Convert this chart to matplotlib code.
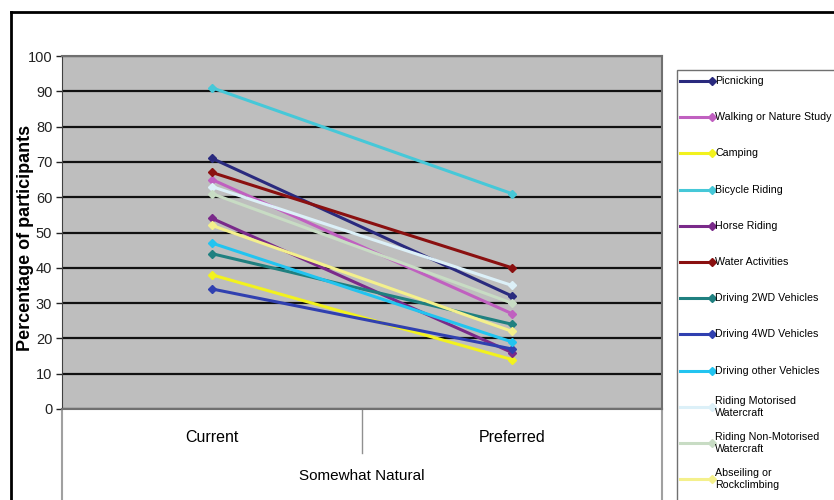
import matplotlib.pyplot as plt
from matplotlib.lines import Line2D
from matplotlib.patches import Rectangle

# data
categories = ['Current', 'Preferred']
group_label = 'Somewhat Natural'
series = ['Picnicking', 'Walking or Nature Study', 'Camping', 'Bicycle Riding',
          'Horse Riding', 'Water Activities', 'Driving 2WD Vehicles',
          'Driving 4WD Vehicles', 'Driving other Vehicles',
          'Riding Motorised\nWatercraft', 'Riding Non-Motorised\nWatercraft',
          'Abseiling or\nRockclimbing']
current = [71, 65, 38, 91, 54, 67, 44, 34, 47, 63, 61, 52]
preferred = [32, 27, 14, 61, 16, 40, 24, 17, 19, 35, 30, 22]
colors = ['#2a2a7e', '#c060c0', '#f2f21e', '#46c8d8', '#7a2a8a', '#8a1010',
          '#1f8080', '#3040b0', '#22c4f0', '#dcf0f8', '#c8dcc4', '#f4f08c']

plt.rcParams['font.family'] = ['Liberation Sans', 'DejaVu Sans']

fig = plt.figure(figsize=(8.34, 5), dpi=100)
ax = fig.add_axes([62/834, 1-409/500, 600/834, 353/500])
ax.set_facecolor('#bebebe')

x = [0.5, 1.5]
for name, c, p, col in zip(series, current, preferred, colors):
    ax.plot(x, [c, p], color=col, lw=2.2, marker='D', ms=4.5, mec=col, mfc=col, zorder=3)

ax.set_xlim(0, 2)
ax.set_ylim(0, 100)
ax.set_yticks(range(0, 101, 10))
ax.tick_params(axis='y', labelsize=10.5, length=4, width=1, colors='#222222', pad=3)
ax.grid(axis='y', color='#111111', lw=1.6)
ax.set_axisbelow(True)
ax.set_xticks([])
for s in ['top', 'right', 'bottom']:
    ax.spines[s].set_color('#707070')
    ax.spines[s].set_linewidth(1.5)
ax.spines['left'].set_color('#404040')

ax.set_ylabel('Percentage of participants', fontsize=13, fontweight='bold')
ax.yaxis.set_label_coords(-0.047, 0.484)

# category axis below the plot
tr = ax.transAxes
for xi, lab in zip(x, categories):
    ax.text(xi / 2, -0.08, lab, transform=tr, ha='center', va='center', fontsize=11.5)
ax.text(0.5, -0.19, group_label, transform=tr, ha='center', va='center', fontsize=11)
ax.plot([0.5, 0.5], [0, -0.125], transform=tr, color='#909090', lw=1, clip_on=False)
for xe in [0, 1]:
    ax.plot([xe, xe], [0, -0.27], transform=tr, color='#a0a0a0', lw=1.5, clip_on=False)

# legend box drawn row by row
fig.patches.append(Rectangle((677/834, -0.1), 0.3, 1.1 - 70/500, transform=fig.transFigure,
                             fill=False, ec='#707070', lw=1))
for i, (name, col) in enumerate(zip(series, colors)):
    yy = 1 - (81 + i * 36.2) / 500
    fig.add_artist(Line2D([680/834, 712/834], [yy, yy], transform=fig.transFigure,
                          color=col, lw=2.2, marker='D', ms=4.5, markevery=[1],
                          mec=col, mfc=col))
    fig.text(715/834, yy, name, fontsize=7.7, va='center', ha='left', linespacing=1.3)

# frame lines of the picture
fig.add_artist(Line2D([11/834, 1], [1 - 12/500, 1 - 12/500], transform=fig.transFigure,
                      color='black', lw=2))
fig.add_artist(Line2D([11/834, 11/834], [0, 1 - 12/500], transform=fig.transFigure,
                      color='black', lw=2))

fig.savefig('out.png', dpi=100)
